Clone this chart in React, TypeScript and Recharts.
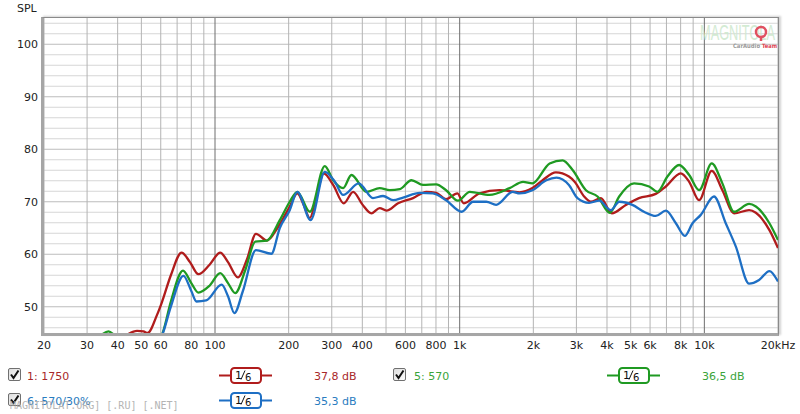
import React from 'react';
import { LineChart, Line, XAxis, YAxis, ReferenceLine } from 'recharts';

// ---------- data ----------
const redFreq = [20, 30, 38, 43, 48, 51, 53, 58, 60.6, 66, 73, 79, 85.5, 95, 105, 113, 124, 135, 147, 163, 180, 202, 217, 230, 244, 260, 278, 304, 336, 367, 400, 436, 471, 502, 560, 645, 731, 801, 880, 978, 1040, 1205, 1455, 1755, 1983, 2183, 2472, 2796, 2950, 3226, 3436, 3774, 4187, 4776, 5404, 6330, 6962, 8010, 8670, 9519, 10720, 11850, 13230, 15240, 16240, 18450, 20000];
const redSpl = [38, 40, 43, 44.5, 45.4, 45.3, 45.0, 48.5, 50.8, 56, 60.3, 58.5, 56.2, 58, 60.3, 58.5, 55.6, 59, 63.9, 62.6, 65, 69.1, 71.6, 69.5, 66.9, 71, 75.4, 73.2, 69.7, 71.9, 69.5, 67.8, 68.8, 68.3, 69.7, 70.7, 71.9, 71.7, 70.5, 71.6, 69.7, 71.6, 72.2, 71.8, 72.6, 74.1, 75.6, 74.8, 73.8, 71.0, 70.0, 70.7, 67.8, 69.4, 70.7, 71.5, 72.9, 75.4, 73.8, 70.3, 75.9, 72.2, 67.8, 68.4, 67.9, 64.6, 61.2];

const greenFreq = [20, 30, 34, 36.7, 39, 45, 55, 61.3, 66, 74, 80, 85.5, 95, 105, 113, 121, 133, 146, 163, 184, 202, 217, 244, 281, 304, 334, 361, 416, 471, 518, 569, 635, 708, 801, 880, 984, 1100, 1324, 1600, 1816, 1983, 2332, 2635, 2900, 3282, 3660, 4110, 4487, 5162, 5945, 6430, 7066, 7888, 8670, 9519, 10720, 11850, 13230, 15240, 16240, 18450, 20000];
const greenSpl = [38, 42, 44.5, 45.3, 44.5, 42, 42, 45.2, 51, 56.9, 54.5, 52.7, 54, 56.4, 54.5, 52.6, 57, 62.4, 62.6, 66.5, 70.0, 71.9, 68.1, 76.8, 74.1, 72.6, 75.1, 71.9, 72.6, 72.2, 72.4, 74.1, 73.2, 73.3, 72.2, 70.2, 71.9, 71.3, 72.6, 73.8, 73.5, 77.3, 77.9, 76.0, 72.2, 71.0, 67.9, 71.0, 73.5, 72.9, 71.9, 74.8, 77.0, 75.1, 72.2, 77.3, 73.5, 68.1, 69.6, 69.1, 65.9, 62.7];

const blueFreq = [20, 50, 61.5, 66, 74.3, 80, 84, 92, 106.5, 113, 120, 130, 147, 170, 184, 202, 217, 246, 281, 309, 334, 387, 442, 486, 534, 587, 687, 777, 880, 1019, 1134, 1285, 1409, 1650, 1755, 1983, 2260, 2487, 2796, 3030, 3380, 3718, 4150, 4487, 5080, 5665, 6330, 6962, 7650, 8321, 8948, 9670, 10950, 12230, 13440, 15240, 16740, 18450, 20000];
const blueSpl = [35, 38, 45.2, 50, 55.9, 53, 51, 51.2, 54.2, 52, 48.8, 53, 60.8, 60.1, 65, 68.4, 71.9, 66.5, 75.7, 73.8, 71.3, 73.5, 70.7, 71.1, 70.3, 70.8, 71.7, 71.6, 70.3, 68.1, 70, 70, 69.4, 71.9, 71.6, 72.2, 74.1, 74.6, 73.2, 70.7, 69.8, 70.2, 68.4, 70.0, 69.4, 68.1, 67.3, 68.3, 65.9, 63.5, 65.9, 67.5, 71.0, 65.9, 61.5, 54.4, 55.1, 56.8, 54.8];

const xGrid = [20, 30, 40, 50, 60, 70, 80, 90, 100, 200, 300, 400, 500, 600, 700, 800, 900, 1000, 2000, 3000, 4000, 5000, 6000, 7000, 8000, 9000, 10000, 20000];
const xMajor = [100, 1000, 10000];
const xLabels: Record<number, string> = {
  20: '20', 30: '30', 40: '40', 50: '50', 60: '60', 80: '80', 100: '100',
  200: '200', 300: '300', 400: '400', 600: '600', 800: '800', 1000: '1k',
  2000: '2k', 3000: '3k', 4000: '4k', 5000: '5k', 6000: '6k', 8000: '8k',
  10000: '10k', 20000: '20kHz',
};
const yGrid = [46, 48, 50, 52, 54, 56, 58, 60, 62, 64, 66, 68, 70, 72, 74, 76, 78, 80, 82, 84, 86, 88, 90, 92, 94, 96, 98, 100, 102, 104];

const seriesNames = ['1: 1750', '5: 570', '6: 570/30%'];
const seriesLevels = ['37,8 dB', '36,5 dB', '35,3 dB'];
const smoothing = '1/6';

const RED = '#b01c1c';
const GREEN = '#1f9a22';
const BLUE = '#1e6fc4';
const FONT = '"DejaVu Sans", Verdana, sans-serif';

const toData = (f: number[], v: number[]) => f.map((x, i) => ({ f: x, v: v[i] }));
const redData = toData(redFreq, redSpl);
const greenData = toData(greenFreq, greenSpl);
const blueData = toData(blueFreq, blueSpl);

// ---------- legend pieces ----------
const CheckBox = ({ x, y }: { x: number; y: number }) => (
  <g>
    <defs>
      <linearGradient id={`cb${x}${y}`} x1="0" y1="0" x2="1" y2="1">
        <stop offset="0%" stopColor="#dcdcdc" />
        <stop offset="100%" stopColor="#ffffff" />
      </linearGradient>
    </defs>
    <rect x={x + 0.5} y={y + 0.5} width={12} height={12} rx={1.5} fill={`url(#cb${x}${y})`} stroke="#707070" />
    <path d={`M${x + 3} ${y + 6.5} L${x + 5.5} ${y + 10} L${x + 10.5} ${y + 2.5}`} fill="none" stroke="#111" strokeWidth={2} />
  </g>
);

const Sample = ({ x, y, color }: { x: number; y: number; color: string }) => {
  const parts = smoothing.split('/');
  return (
    <g>
      <line x1={x} y1={y} x2={x + 53} y2={y} stroke={color} strokeWidth={2} />
      <rect x={x + 12} y={y - 7.5} width={30} height={15} rx={3.5} fill="#fff" stroke={color} strokeWidth={2} />
      <text x={x + 16} y={y + 3} fontSize={11} fill="#111" fontFamily={FONT}>{parts[0]}</text>
      <line x1={x + 22} y1={y + 4} x2={x + 26} y2={y - 5} stroke="#111" strokeWidth={1} />
      <text x={x + 26} y={y + 5} fontSize={10} fill="#111" fontFamily={FONT}>{parts[1]}</text>
    </g>
  );
};

const LegendBox = () => (
  <svg width={800} height={60} style={{ position: 'absolute', left: 0, top: 360 }}>
    <CheckBox x={8} y={8} />
    <text x={27} y={19.5} fontSize={11} fill="#a8282a" fontFamily={FONT}>{seriesNames[0]}</text>
    <Sample x={219} y={15.5} color={RED} />
    <text x={314} y={19.5} fontSize={11} fill="#a8282a" fontFamily={FONT}>{seriesLevels[0]}</text>

    <CheckBox x={393} y={8} />
    <text x={414} y={19.5} fontSize={11} fill="#3aa43a" fontFamily={FONT}>{seriesNames[1]}</text>
    <Sample x={607} y={15.5} color={GREEN} />
    <text x={702} y={19.5} fontSize={11} fill="#3aa43a" fontFamily={FONT}>{seriesLevels[1]}</text>

    <CheckBox x={8} y={33} />
    <text x={27} y={44.5} fontSize={11} fill="#2a7cc0" fontFamily={FONT}>{seriesNames[2]}</text>
    <Sample x={219} y={40.5} color={BLUE} />
    <text x={314} y={44.5} fontSize={11} fill="#2a7cc0" fontFamily={FONT}>{seriesLevels[2]}</text>

    <text x={10} y={49} fontSize={10} fill="#a8a8a8" fontFamily='"DejaVu Sans Mono", monospace' opacity={0.85}>MAGNITOLAT.ORG] [.RU] [.NET]</text>
  </svg>
);

const Watermark = () => (
  <svg width={800} height={60} style={{ position: 'absolute', left: 0, top: 0, pointerEvents: 'none' }}>
    <text x={700} y={40} fontSize={22} fill="#cfe9cf" fontFamily='"Liberation Sans Narrow", "Liberation Sans", sans-serif' textLength={75} lengthAdjust="spacingAndGlyphs" opacity={0.9}>MAGNITOLA</text>
    <circle cx={761} cy={32} r={5} fill="none" stroke="#e05060" strokeWidth={2.5} />
    <line x1={761} y1={37} x2={761} y2={41} stroke="#e05060" strokeWidth={2.5} />
    <text x={733} y={48} fontSize={6} fontWeight="bold" fill="#9a9a9a" fontFamily={FONT} textLength={27} lengthAdjust="spacingAndGlyphs">CarAudio</text>
    <text x={762} y={48} fontSize={6} fontWeight="bold" fill="#e04050" fontFamily={FONT} textLength={15} lengthAdjust="spacingAndGlyphs">Team</text>
  </svg>
);

export default function App() {
  return (
    <div style={{ position: 'absolute', left: 0, top: 0, width: 800, height: 414, background: '#fff', fontFamily: FONT, overflow: 'hidden' }}>
      <LineChart width={800} height={414} margin={{ top: 18, right: 22, bottom: 61, left: 0 }}>
        <XAxis
          dataKey="f"
          type="number"
          scale="log"
          domain={[20, 20000]}
          allowDataOverflow
          ticks={xGrid}
          interval={0}
          tickFormatter={(v: number) => xLabels[v] ?? ''}
          tickLine={false}
          axisLine={false}
          height={20}
          tick={{ fontSize: 11, fill: '#222', fontFamily: FONT }}
          tickSize={6}
          tickMargin={2}
        />
        <YAxis
          type="number"
          domain={[45, 105]}
          allowDataOverflow
          ticks={yGrid}
          interval={0}
          tickFormatter={(v: number) => (v % 10 === 0 ? String(v) : '')}
          tickLine={false}
          axisLine={false}
          width={44}
          tick={{ fontSize: 11, fill: '#222', fontFamily: FONT }}
          tickSize={4}
          tickMargin={2}
        />
        {yGrid.map((v) => (
          <ReferenceLine key={`h${v}`} y={v} stroke={v % 10 === 0 ? '#bdbdbd' : '#d6d6d6'} strokeWidth={1} />
        ))}
        {xGrid.map((v) => (
          <ReferenceLine key={`v${v}`} x={v} stroke={xMajor.includes(v) ? '#6e6e6e' : '#b4b4b4'} strokeWidth={1} />
        ))}
        <Line data={redData} dataKey="v" type="monotone" stroke={RED} strokeWidth={2.3} dot={false} isAnimationActive={false} />
        <Line data={greenData} dataKey="v" type="monotone" stroke={GREEN} strokeWidth={2.3} dot={false} isAnimationActive={false} />
        <Line data={blueData} dataKey="v" type="monotone" stroke={BLUE} strokeWidth={2.3} dot={false} isAnimationActive={false} />
      </LineChart>
      <div style={{ position: 'absolute', left: 41, top: 17, width: 734, height: 315, borderTop: '1px solid #8a8a8a', borderRight: '1px solid #8a8a8a', borderLeft: '3px solid #a6a6a6', borderBottom: '3px solid #a6a6a6', boxShadow: '2px -1px 2px rgba(0,0,0,0.18)', pointerEvents: 'none' }} />
      <div style={{ position: 'absolute', left: 17, top: 2, fontSize: 11, color: '#222', fontFamily: FONT }}>SPL</div>
      <Watermark />
      <LegendBox />
    </div>
  );
}
